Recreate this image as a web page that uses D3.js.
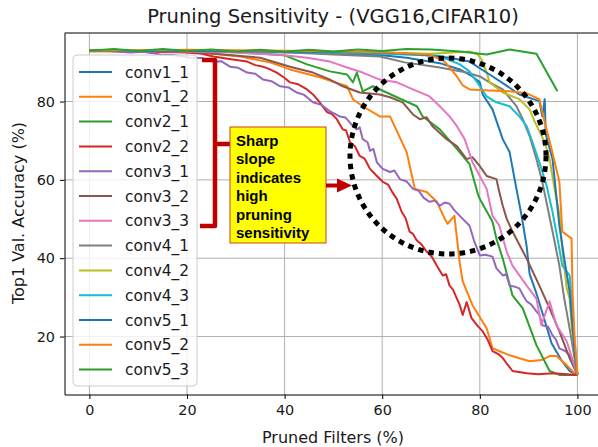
<!DOCTYPE html>
<html>
<head>
<meta charset="utf-8">
<script src="https://cdn.jsdelivr.net/npm/d3@7"></script>
<style>
    body { margin: 0; background: #fff; }
    svg { display: block; }
    text { font-family: "DejaVu Sans", sans-serif; fill: #1a1a1a; }
</style>
</head>
<body>
<div id="chart"></div>
<script>

// layer names, in plotting order
var seriesNames = ["conv1_1", "conv1_2", "conv2_1", "conv2_2", "conv3_1", "conv3_2", "conv3_3",
    "conv4_1", "conv4_2", "conv4_3", "conv5_1", "conv5_2", "conv5_3"];

// [pruned filters %, top1 val accuracy %]
var conv1_1 = [[0,93],[10,92.8],[20,93],[30,92.8],[40,92.6],[50,92.3],[60,91.8],[65,91.2],[71.8,89.8],[75.9,88.2],
    [78.5,86.4],[80,84.9],[80.6,81.8],[82.6,78],[84.7,70.4],[86.1,67.1],[87.5,57.7],[88.5,51.3],[89.6,43],[90.2,36],
    [91.6,31],[93.3,24.1],[94.7,18.3],[96.7,14],[98.4,11.2],[100,10.2]];
var conv1_2 = [[0,92.8],[12.5,92.8],[22.7,92.5],[30.9,91.5],[37,90],[41.1,88.2],[47.2,86.2],[52.8,83.9],[54,80.6],
    [56,78.8],[59.5,76.2],[61.6,76.2],[65,67.1],[66.7,57.7],[69.1,56.9],[71.2,54.4],[72.8,50.1],[73.4,48.8],[74.8,50.8],
    [75.9,38.6],[76.5,34.1],[78.5,28],[81.4,22.1],[82.6,17],[86.1,15.2],[90.2,13.7],[92.6,14],[94.3,15],[95.7,15],
    [97.8,12.7],[99.4,10.7],[100,10.2]];
var conv2_1 = [[0,93],[20,93],[30,92.6],[40,91.8],[44.6,89.5],[49.3,87.7],[52.8,86.9],[54,84.9],[54.8,87.4],[56,82.6],
    [58.1,83.9],[63,81.1],[67.1,78.8],[68.3,76.2],[71.8,72.9],[75.3,67.9],[77.9,64],[79.6,56.4],[80,55.1],[82.6,49.3],
    [83.4,45],[84.7,39.9],[86.7,30.5],[88.8,27.2],[91.6,17.8],[94.3,11.2],[96.3,10.2],[100,10.2]];
var conv2_2 = [[0,93],[10,92.8],[20,92.5],[23,92.2],[25.4,91.5],[29,90.8],[32.3,90.2],[34,89.3],[35.6,88.9],[37,88.2],
    [38.4,87.4],[39.8,86.2],[41.1,84.9],[42.8,84.4],[44.6,83.1],[46,81.6],[47.2,79.8],[48.7,77.3],[49.7,76.8],[50.7,75.5],
    [51.9,72.9],[52.6,72.6],[53.4,69.6],[54.4,68.6],[55.4,66.1],[56.4,65.4],[57.5,62.8],[58.9,61],[60.1,59.5],[61.2,58.8],
    [62,57],[63,55.1],[64,51.8],[64.8,50.2],[65.6,46.8],[66.3,46.2],[67.1,44.5],[68,43.6],[69.1,41.7],[70.2,40.3],
    [71.2,38.1],[72.4,35.6],[73.1,35.9],[73.8,33],[74.5,32],[75.3,29.7],[75.9,28],[76.5,25.5],[77.3,28.8],[78.3,24.7],
    [79.5,22.8],[80.6,21.3],[81.6,19.2],[82.6,16.3],[83.7,15.6],[84.7,14.5],[85.7,12.8],[86.7,11.2],[89.6,10.6],
    [92,10.4],[95,10.6],[100,10.2]];
var conv3_1 = [[0,93],[4,92.9],[8.4,92.5],[11,92.7],[14.5,92],[17,91.9],[20.7,91.2],[23,91.1],[25.4,90.2],[27,90.3],
    [28.8,88.9],[30.5,88.6],[32.3,87.4],[34,87.1],[35.6,85.6],[37.3,85.2],[39.1,83.9],[40.8,83.6],[42.5,82.3],[44,81.7],
    [45.8,79.8],[47.5,79.2],[49.3,77.5],[51.3,76.2],[52.5,75.9],[54,73.7],[54.8,72.9],[55.4,73.4],[56,70.4],[57,69.6],
    [57.5,67.4],[58.2,67.9],[58.9,64.5],[60.1,62.8],[61.6,62],[62.5,62.4],[63.6,60.2],[65,59.6],[66.3,57.7],[67.5,57.2],
    [68.5,55.4],[69.7,54.4],[70.8,54.7],[71.8,53.4],[72.8,54.2],[73.8,53.9],[74.8,52.2],[75.9,50.8],[77,49.4],[77.9,48.3],
    [78.8,44.5],[80,40.7],[81.2,40.9],[82.6,40.4],[83.4,37.4],[84.7,35.6],[85.4,35.9],[86.1,33],[87,32.8],[88.1,32.3],
    [89,30.2],[89.6,29],[90.5,28.2],[91.6,26.4],[92.2,25.6],[92.8,22.9],[94,22.5],[94.9,20.3],[95.6,19.2],[96.3,17],
    [97.5,16.3],[98.4,15.2],[99.3,13],[100,10.2]];
var conv3_2 = [[0,93],[20,92.8],[35,91.2],[41.1,88.9],[45.8,87.4],[49.3,85.6],[51.9,83.9],[55.4,82.3],[59.5,81.8],
    [61.6,81.1],[64.2,79.8],[66.3,76.7],[67.7,75.5],[69.1,76],[70.3,73.7],[73.2,70.4],[75.3,68.6],[77.3,65.3],[78.5,65.8],
    [80,63.5],[81.4,61],[83.4,60.2],[84,56.9],[84.7,53.4],[85.5,50.1],[86.7,46.8],[89.6,39.9],[92.2,33],[94.3,27.2],
    [96.3,21.3],[98.4,14.5],[100,10.2]];
var conv3_3 = [[0,93],[20,92.8],[30,92.5],[40,91.8],[44.6,91.2],[49.3,90.2],[52.8,88.7],[56,87.4],[59.5,85.6],[63,84.9],
    [66.3,83.1],[69.7,81.3],[71.8,78.8],[73.8,76.2],[75.3,73.7],[76.9,70.4],[78.5,64.5],[80,61],[81.4,57.7],[82.6,50.8],
    [84,48.3],[85.5,41.7],[86.7,38.1],[89.6,33],[91.6,29.7],[92.6,22.9],[94.3,29],[95.7,22.9],[97.8,18.8],[100,10.2]];
var conv4_1 = [[0,93],[30,92.8],[40,92.6],[50,92],[59.5,91.5],[64.6,90],[71.8,88.7],[77.3,87.4],[80,86.4],[82,84.9],
    [84.7,83.1],[87.5,78.8],[88.8,75.5],[90.2,71.2],[91.6,65.3],[92.8,59.5],[94.9,46.8],[96.3,38.1],[97.3,29.7],
    [98.4,22.1],[99.4,14.5],[100,10.2]];
var conv4_2 = [[0,93],[40,92.8],[60,92.5],[70,92.2],[77.9,92.8],[79.6,92],[80.4,90.7],[81.4,87.4],[82,84.9],[84.7,82.3],
    [88.1,80.6],[90.2,78],[91.2,75],[93.3,69.6],[94.3,65.3],[95.3,57.7],[96.3,51.3],[96.9,42.4],[97.8,32.3],[98.4,29.7],
    [98.8,22.9],[100,10.2]];
var conv4_3 = [[0,93],[40,92.8],[60,92.2],[71.6,91.7],[75.9,89.5],[77.9,87.7],[80,83.9],[81.4,81.3],[83.4,79.8],
    [86.1,78.8],[88.1,76.2],[89.6,73.7],[90.8,69.6],[92.2,64.5],[93.7,58.5],[94.9,51.8],[96.3,42.4],[96.9,38.1],
    [98.4,35.6],[99,26.4],[99.4,18.8],[100,10.2]];
var conv5_1 = [[0,93],[40,92.8],[60,92.5],[67.7,92],[73.8,91.2],[77.9,90.2],[82,86.9],[85.1,84.4],[88.1,81.8],
    [92.2,80.1],[92.8,76.2],[93.3,80.6],[93.5,71.7],[94.9,65.3],[96.3,48.3],[97.3,39.9],[98.4,31.5],[99.4,16.3],[100,10.2]];
var conv5_2 = [[0,93],[20,93.2],[40,93],[60,92.6],[69.7,92],[72.8,90.2],[75.3,86.4],[76.5,84.1],[77.9,83.1],[82,82.8],
    [86.1,82.6],[89.6,82.1],[92.2,80.6],[93.3,74.7],[94.7,67.9],[96.3,59.5],[96.9,46.8],[98.8,45],[99,31.5],[99.4,20.3],
    [100,10.2]];
var conv5_3 = [[0,93],[5,93.4],[10,92.9],[15,93.4],[20,92.9],[25,93.3],[30,92.8],[35,93.2],[40,92.7],[45,93.2],
    [50,92.8],[55,93.3],[60,92.9],[65,93.4],[70,93.3],[75.9,92.8],[81.4,92],[86.1,93.3],[91.6,92.2],[95.9,82.6]];

var seriesData = [conv1_1, conv1_2, conv2_1, conv2_2, conv3_1, conv3_2, conv3_3,
    conv4_1, conv4_2, conv4_3, conv5_1, conv5_2, conv5_3];

var xTicks = [0, 20, 40, 60, 80, 100];
var yTicks = [20, 40, 60, 80];
var noteLines = ["Sharp", "slope", "indicates", "high", "pruning", "sensitivity"];


SensitivityVis = function(_parentElement, _names, _data){
    this.parentElement = _parentElement;
    this.names = _names;
    this.data = _data;

    this.margin = {top: 33, left: 64.5};
    this.width = 538.3;
    this.height = 361.5;

    this.initVis();
};

SensitivityVis.prototype.initVis = function(){
    var that = this;

    this.root = d3.select(this.parentElement).append("svg")
        .attr("width", 598)
        .attr("height", 447);

    this.svg = this.root.append("g")
        .attr("transform", "translate(" + this.margin.left + "," + this.margin.top + ")");

    this.x = d3.scaleLinear().domain([-5.1, 105.2]).range([0, this.width]);
    this.y = d3.scaleLinear().domain([5.2, 97.5]).range([this.height, 0]);
    this.color = d3.scaleOrdinal(d3.schemeCategory10).domain(d3.range(10));

    // grid
    this.svg.append("g").selectAll("line.gx")
        .data(xTicks).enter().append("line")
        .attr("x1", function(d) { return that.x(d); })
        .attr("x2", function(d) { return that.x(d); })
        .attr("y1", 0).attr("y2", this.height)
        .attr("stroke", "#b0b0b0").attr("stroke-width", 1);
    this.svg.append("g").selectAll("line.gy")
        .data(yTicks).enter().append("line")
        .attr("y1", function(d) { return that.y(d); })
        .attr("y2", function(d) { return that.y(d); })
        .attr("x1", 0).attr("x2", this.width)
        .attr("stroke", "#b0b0b0").attr("stroke-width", 1);

    // lines
    this.line = d3.line()
        .x(function(d) { return that.x(d[0]); })
        .y(function(d) { return that.y(d[1]); });

    this.svg.append("g").selectAll("path")
        .data(this.data)
        .enter().append("path")
        .attr("d", function(d) { return that.line(d); })
        .attr("fill", "none")
        .attr("stroke", function(d, i) { return that.color(i % 10); })
        .attr("stroke-width", 2)
        .attr("stroke-linejoin", "round");

    // axes
    this.xAxis = d3.axisBottom(this.x).tickValues(xTicks).tickSize(4.5).tickSizeOuter(0).tickPadding(6);
    this.yAxis = d3.axisLeft(this.y).tickValues(yTicks).tickSize(4.5).tickSizeOuter(0).tickPadding(5);

    this.svg.append("g")
        .attr("transform", "translate(0," + this.height + ")")
        .call(this.xAxis)
        .call(styleAxis);
    this.svg.append("g")
        .call(this.yAxis)
        .call(styleAxis);

    this.svg.append("line")
        .attr("x1", 0).attr("x2", this.width)
        .attr("y1", 0).attr("y2", 0)
        .attr("stroke", "#000").attr("stroke-width", 1);

    // titles
    this.root.append("text")
        .attr("x", 333).attr("y", 23)
        .attr("text-anchor", "middle")
        .style("font-size", "19.5px")
        .text("Pruning Sensitivity - (VGG16,CIFAR10)");
    this.root.append("text")
        .attr("x", 333).attr("y", 443)
        .attr("text-anchor", "middle")
        .style("font-size", "16px")
        .text("Pruned Filters (%)");
    this.root.append("text")
        .attr("transform", "translate(24,213) rotate(-90)")
        .attr("text-anchor", "middle")
        .style("font-size", "16px")
        .text("Top1 Val. Accuracy (%)");

    this.drawLegend();
    this.drawNotes();
};

SensitivityVis.prototype.drawLegend = function(){
    var that = this;
    var lg = this.root.append("g");

    lg.append("rect")
        .attr("x", 73).attr("y", 55)
        .attr("width", 124).attr("height", 331)
        .attr("rx", 4)
        .attr("fill", "#fff").attr("fill-opacity", 0.8)
        .attr("stroke", "#cccccc").attr("stroke-width", 1);

    var row = lg.selectAll("g.row")
        .data(this.names)
        .enter().append("g")
        .attr("transform", function(d, i) { return "translate(0," + (72 + i * 24.8) + ")"; });

    row.append("line")
        .attr("x1", 79).attr("x2", 112)
        .attr("stroke", function(d, i) { return that.color(i % 10); })
        .attr("stroke-width", 2);

    row.append("text")
        .attr("x", 125).attr("y", 5.5)
        .style("font-size", "15.4px")
        .text(function(d) { return d; });
};

SensitivityVis.prototype.drawNotes = function(){
    var red = "#c00000";
    var notes = this.root.append("g");

    // bracket over the sensitive layers
    notes.append("path")
        .attr("d", "M202,60 H215 V226 H200 M215,144 H230")
        .attr("fill", "none")
        .attr("stroke", red)
        .attr("stroke-width", 4.5)
        .attr("stroke-linejoin", "round");

    notes.append("rect")
        .attr("x", 230).attr("y", 127)
        .attr("width", 96).attr("height", 116)
        .attr("fill", "#ffff00")
        .attr("stroke", "#cc4422").attr("stroke-width", 1);

    notes.selectAll("text.note")
        .data(noteLines)
        .enter().append("text")
        .attr("x", 236)
        .attr("y", function(d, i) { return 146 + i * 18.4; })
        .style("font-family", "'Liberation Sans', Arial, sans-serif")
        .style("font-weight", "bold")
        .style("font-size", "15px")
        .style("fill", "#000")
        .text(function(d) { return d; });

    // arrow into the circle
    notes.append("line")
        .attr("x1", 326).attr("x2", 338)
        .attr("y1", 185.5).attr("y2", 185.5)
        .attr("stroke", red).attr("stroke-width", 4);
    notes.append("path")
        .attr("d", "M337,178.5 L352,185.5 L337,192.5 Z")
        .attr("fill", red);

    notes.append("ellipse")
        .attr("cx", 448).attr("cy", 156)
        .attr("rx", 98).attr("ry", 98)
        .attr("fill", "none")
        .attr("stroke", "#000")
        .attr("stroke-width", 5)
        .attr("stroke-dasharray", "5.5 5");
};


//......................helpers.............................

function styleAxis(g) {
    g.select(".domain").attr("stroke", "#000").attr("stroke-width", 1);
    g.selectAll(".tick line").attr("stroke", "#000").attr("stroke-width", 1);
    g.selectAll(".tick text")
        .style("font-family", "'DejaVu Sans', sans-serif")
        .style("font-size", "14.4px")
        .attr("fill", "#1a1a1a");
}

new SensitivityVis("#chart", seriesNames, seriesData);

</script>
</body>
</html>
